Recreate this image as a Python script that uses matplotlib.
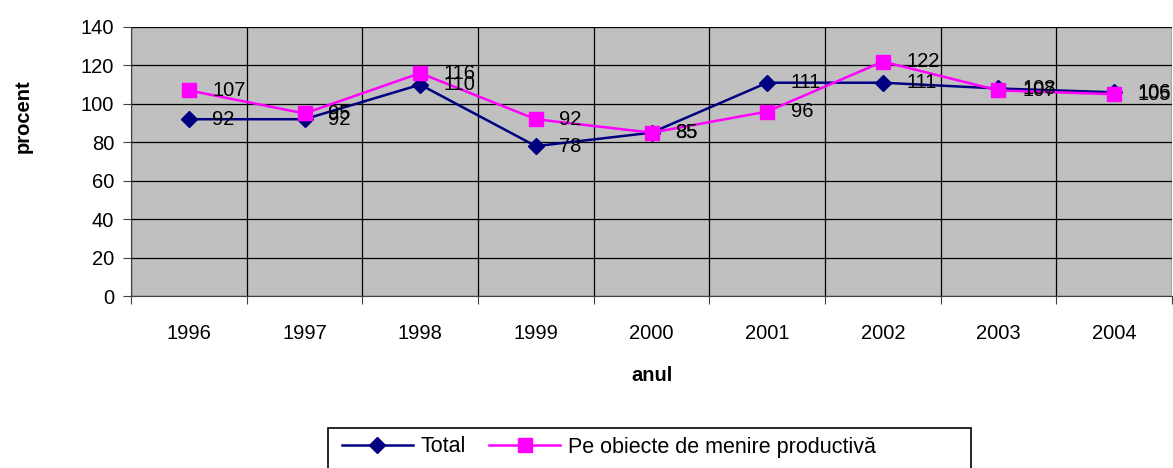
import matplotlib.pyplot as plt
from matplotlib.patches import Rectangle

plt.rcParams['font.family'] = ['Liberation Sans', 'DejaVu Sans']

ani = ['1996', '1997', '1998', '1999', '2000', '2001', '2002', '2003', '2004']
total = [92, 92, 110, 78, 85, 111, 111, 108, 106]
productiv = [107, 95, 116, 92, 85, 96, 122, 107, 105]

W, H = 1173, 468
fig = plt.figure(figsize=(W / 100, H / 100), dpi=100)
ax = fig.add_axes([131 / W, 1 - 296 / H, (1172 - 131) / W, (296 - 27) / H])
ax.set_facecolor('#C0C0C0')

xs = [i + 0.5 for i in range(len(ani))]
l1, = ax.plot(xs, total, color='#000080', lw=1.8, marker='D', ms=8, label='Total', zorder=3)
l2, = ax.plot(xs, productiv, color='#FF00FF', lw=1.8, marker='s', ms=10, label='Pe obiecte de menire productivă', zorder=3)

# etichete de date
for x, v in zip(xs, total):
    ax.annotate(str(v), (x, v), xytext=(17, 0), textcoords='offset points',
                ha='left', va='center', fontsize=14.5, zorder=4)
for x, v in zip(xs, productiv):
    ax.annotate(str(v), (x, v), xytext=(17, 0), textcoords='offset points',
                ha='left', va='center', fontsize=14.5, zorder=4)

ax.set_xlim(0, len(ani))
ax.set_ylim(0, 140)
ax.set_yticks(range(0, 141, 20))
ax.set_xticks(range(0, len(ani) + 1))
ax.set_xticklabels([])
ax.set_xticks(xs, minor=True)
ax.set_xticklabels(ani, minor=True)
ax.tick_params(axis='x', which='minor', length=0, pad=20, labelsize=14.5)
ax.tick_params(axis='x', which='major', length=6, color='#404040')
ax.tick_params(axis='y', length=6, pad=6, labelsize=14.5, color='#404040')

ax.grid(True, which='major', color='black', lw=0.9)
ax.set_axisbelow(True)
for s in ['top', 'right']:
    ax.spines[s].set_visible(False)
ax.spines['left'].set_color('#404040')
ax.spines['bottom'].set_color('#404040')

ax.set_ylabel('procent', fontsize=14.5, fontweight='bold')
ax.yaxis.set_label_coords((33 - 131) / 1041, 1 - (116 - 27) / 269)
ax.set_xlabel('anul', fontsize=14.5, fontweight='bold', labelpad=17)

# legenda
fig.patches.append(Rectangle((328 / W, -0.05), (971 - 328) / W, 0.05 + 1 - 428 / H,
                             transform=fig.transFigure, fill=False, ec='black', lw=1.2))
fig.legend(handles=[l1, l2], loc='center left', bbox_to_anchor=(333 / W, 1 - 447 / H),
           ncol=2, frameon=False, fontsize=15.5, handlelength=3.3, handletextpad=0.35,
           columnspacing=1.1, borderaxespad=0)

fig.savefig('out.png', dpi=100)
